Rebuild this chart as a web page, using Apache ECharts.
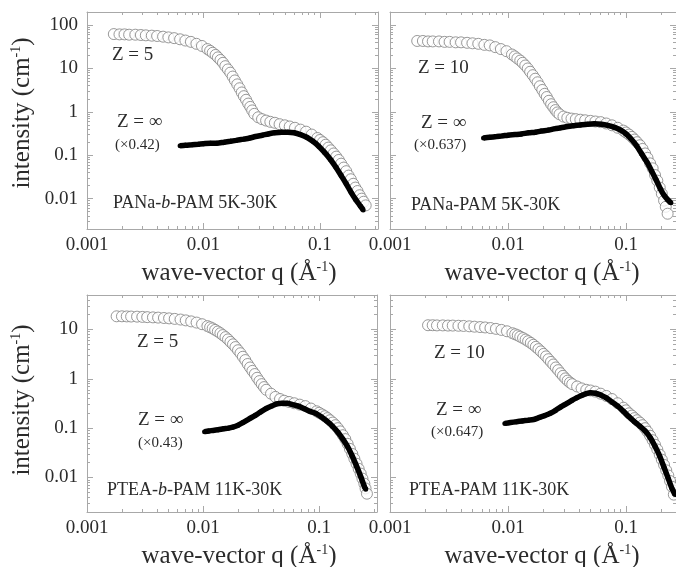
<!DOCTYPE html>
<html>
<head>
<meta charset="utf-8">
<script src="https://cdn.jsdelivr.net/npm/echarts@6/dist/echarts.min.js"></script>
<style>
  html, body { margin: 0; background: #fff; }
  #chart { width: 676px; height: 567px; }
</style>
</head>
<body>
<div id="chart"></div>
<script>
// [q (1/Å), intensity (1/cm)]
const PANA_B_Z5 = [[0.0017,62],[0.0019,61],[0.0021,61],[0.0023,60],[0.0026,60],[0.0029,59],[0.0032,58],[0.0036,57],[0.004,56],[0.0045,54],[0.005,52],[0.0056,50],[0.0063,47],[0.007,44],[0.0078,41],[0.0087,37],[0.0097,33],[0.0108,28],[0.0114,25.5],[0.012,23],[0.0127,20.5],[0.0133,18],[0.014,15.7],[0.0147,13.5],[0.0154,11.3],[0.0162,9.5],[0.017,8],[0.0178,6.5],[0.0186,5.3],[0.0195,4.3],[0.0204,3.5],[0.0213,2.8],[0.0222,2.3],[0.0232,1.9],[0.0242,1.55],[0.0252,1.3],[0.0262,1.08],[0.0273,0.9],[0.0295,0.75],[0.0318,0.68],[0.0345,0.63],[0.0375,0.59],[0.041,0.56],[0.045,0.52],[0.05,0.49],[0.055,0.46],[0.061,0.43],[0.068,0.39],[0.076,0.35],[0.085,0.3],[0.095,0.25],[0.1,0.225],[0.106,0.2],[0.112,0.175],[0.118,0.15],[0.124,0.13],[0.131,0.11],[0.138,0.093],[0.145,0.078],[0.152,0.064],[0.16,0.052],[0.168,0.043],[0.176,0.034],[0.184,0.028],[0.193,0.022],[0.201,0.018],[0.21,0.015],[0.219,0.012],[0.228,0.01],[0.237,0.0085],[0.247,0.007]];
const PANA_B_INF = [[0.0063,0.165],[0.007,0.17],[0.008,0.175],[0.009,0.18],[0.01,0.185],[0.0115,0.19],[0.013,0.19],[0.015,0.2],[0.017,0.21],[0.019,0.22],[0.022,0.235],[0.025,0.25],[0.028,0.27],[0.032,0.29],[0.036,0.31],[0.041,0.33],[0.047,0.34],[0.053,0.34],[0.06,0.33],[0.068,0.3],[0.077,0.26],[0.087,0.21],[0.098,0.16],[0.11,0.115],[0.123,0.08],[0.137,0.053],[0.152,0.034],[0.168,0.022],[0.185,0.014],[0.203,0.0095],[0.222,0.0068],[0.235,0.0055]];

const PANA_Z10 = [[0.0017,43],[0.0019,43],[0.0021,42],[0.0023,42],[0.0026,42],[0.0029,41],[0.0032,41],[0.0036,40],[0.004,40],[0.0045,39],[0.005,38],[0.0056,37],[0.0063,35],[0.007,34],[0.0078,31],[0.0087,28],[0.0097,25],[0.0108,21],[0.0114,19],[0.012,17],[0.0127,15.2],[0.0133,13.5],[0.014,11.7],[0.0147,10],[0.0154,8.4],[0.0162,7],[0.017,5.8],[0.0178,4.8],[0.0186,3.9],[0.0195,3.2],[0.0204,2.6],[0.0213,2.2],[0.0222,1.8],[0.0232,1.5],[0.0242,1.28],[0.0252,1.1],[0.0262,0.97],[0.0273,0.88],[0.0295,0.78],[0.0318,0.73],[0.0345,0.7],[0.0375,0.68],[0.041,0.66],[0.045,0.64],[0.05,0.62],[0.055,0.6],[0.061,0.58],[0.068,0.54],[0.076,0.49],[0.085,0.43],[0.095,0.37],[0.1,0.335],[0.106,0.3],[0.112,0.265],[0.118,0.23],[0.124,0.2],[0.131,0.17],[0.138,0.14],[0.145,0.11],[0.152,0.087],[0.16,0.065],[0.168,0.05],[0.176,0.035],[0.184,0.026],[0.193,0.018],[0.201,0.013],[0.21,0.009],[0.217,0.0065],[0.225,0.0045]];
const PANA_INF = [[0.0062,0.25],[0.007,0.26],[0.008,0.27],[0.009,0.28],[0.01,0.29],[0.0115,0.3],[0.013,0.31],[0.015,0.33],[0.017,0.34],[0.019,0.36],[0.022,0.38],[0.025,0.41],[0.028,0.43],[0.032,0.46],[0.036,0.48],[0.041,0.5],[0.047,0.52],[0.054,0.53],[0.062,0.52],[0.07,0.49],[0.08,0.44],[0.09,0.38],[0.1,0.31],[0.11,0.24],[0.122,0.17],[0.135,0.11],[0.15,0.07],[0.165,0.043],[0.18,0.027],[0.195,0.017],[0.21,0.012],[0.225,0.0095],[0.24,0.008]];

const PTEA_B_Z5 = [[0.0018,18.5],[0.002,18.5],[0.0022,18.4],[0.0024,18.3],[0.0027,18.2],[0.003,18],[0.0033,17.8],[0.0037,17.6],[0.0041,17.4],[0.0046,17.1],[0.0051,16.8],[0.0057,16.4],[0.0064,15.9],[0.0071,15.3],[0.0079,14.6],[0.0088,13.8],[0.0098,12.8],[0.0109,11.7],[0.0115,11.1],[0.0121,10.5],[0.0127,9.8],[0.0134,9.1],[0.0141,8.4],[0.0148,7.7],[0.0156,7],[0.0164,6.3],[0.0172,5.6],[0.0181,5],[0.019,4.4],[0.02,3.8],[0.021,3.3],[0.022,2.8],[0.0231,2.4],[0.0242,2],[0.0254,1.7],[0.0266,1.45],[0.0279,1.25],[0.0292,1.05],[0.0306,0.9],[0.032,0.78],[0.0335,0.68],[0.035,0.6],[0.0385,0.5],[0.042,0.43],[0.046,0.39],[0.05,0.36],[0.055,0.34],[0.061,0.32],[0.068,0.3],[0.076,0.28],[0.085,0.25],[0.095,0.22],[0.1,0.205],[0.106,0.19],[0.112,0.175],[0.118,0.16],[0.124,0.145],[0.131,0.13],[0.138,0.115],[0.145,0.1],[0.152,0.086],[0.16,0.072],[0.168,0.06],[0.176,0.048],[0.184,0.038],[0.193,0.03],[0.201,0.024],[0.21,0.019],[0.219,0.015],[0.228,0.012],[0.236,0.0095],[0.245,0.0075],[0.251,0.006],[0.258,0.0047]];
const PTEA_B_INF = [[0.0103,0.085],[0.0112,0.088],[0.0122,0.09],[0.0135,0.093],[0.015,0.097],[0.0165,0.1],[0.018,0.105],[0.02,0.115],[0.022,0.13],[0.025,0.155],[0.028,0.18],[0.031,0.21],[0.035,0.25],[0.039,0.28],[0.043,0.31],[0.048,0.32],[0.053,0.32],[0.059,0.3],[0.066,0.28],[0.074,0.25],[0.083,0.22],[0.093,0.2],[0.104,0.17],[0.116,0.14],[0.13,0.11],[0.145,0.083],[0.16,0.06],[0.176,0.042],[0.193,0.027],[0.21,0.017],[0.228,0.0105],[0.245,0.0066],[0.252,0.0058]];

const PTEA_Z10 = [[0.0021,12.2],[0.0023,12.2],[0.0025,12.1],[0.0028,12.1],[0.0031,12],[0.0034,12],[0.0038,11.9],[0.0042,11.8],[0.0047,11.6],[0.0052,11.4],[0.0058,11.2],[0.0064,11],[0.0071,10.7],[0.0079,10.3],[0.0088,9.8],[0.0098,9.2],[0.0109,8.4],[0.0115,8],[0.0121,7.6],[0.0127,7.15],[0.0134,6.7],[0.0141,6.25],[0.0148,5.8],[0.0156,5.35],[0.0164,4.9],[0.0172,4.45],[0.0181,4],[0.019,3.6],[0.02,3.2],[0.021,2.85],[0.022,2.5],[0.0231,2.2],[0.0242,1.95],[0.0254,1.7],[0.0266,1.5],[0.0279,1.3],[0.0292,1.15],[0.0306,1.02],[0.032,0.92],[0.0335,0.84],[0.035,0.78],[0.0385,0.7],[0.042,0.64],[0.046,0.6],[0.05,0.58],[0.055,0.55],[0.061,0.5],[0.068,0.45],[0.076,0.39],[0.085,0.32],[0.095,0.26],[0.1,0.23],[0.106,0.2],[0.112,0.18],[0.118,0.16],[0.124,0.145],[0.131,0.13],[0.138,0.115],[0.145,0.1],[0.152,0.085],[0.16,0.07],[0.168,0.057],[0.176,0.046],[0.184,0.037],[0.193,0.029],[0.201,0.023],[0.21,0.018],[0.219,0.014],[0.228,0.011],[0.236,0.0085],[0.245,0.0065],[0.254,0.0045]];
const PTEA_INF = [[0.0094,0.125],[0.0105,0.13],[0.0118,0.135],[0.0132,0.14],[0.0148,0.145],[0.0165,0.15],[0.0185,0.165],[0.0205,0.18],[0.0228,0.2],[0.0253,0.23],[0.028,0.27],[0.031,0.31],[0.0345,0.36],[0.038,0.41],[0.042,0.46],[0.046,0.5],[0.05,0.52],[0.055,0.51],[0.061,0.47],[0.068,0.41],[0.076,0.34],[0.085,0.28],[0.095,0.22],[0.106,0.17],[0.118,0.135],[0.131,0.11],[0.145,0.088],[0.16,0.065],[0.176,0.043],[0.193,0.027],[0.21,0.016],[0.228,0.0095],[0.245,0.006],[0.26,0.0045]];

const X_TICKS = [0.001, 0.01, 0.1];
const X_TICK_LABELS = ['0.001', '0.01', '0.1'];
const Y_TICKS = [0.01, 0.1, 1, 10, 100];
const Y_TICK_LABELS = ['0.01', '0.1', '1', '10', '100'];

const SAMPLES = ['PANa-{i|b}-PAM 5K-30K', 'PANa-PAM 5K-30K', 'PTEA-{i|b}-PAM 11K-30K', 'PTEA-PAM 11K-30K'];
const Z_LABELS = ['Z = 5', 'Z = 10', 'Z = 5', 'Z = 10'];
const FACTORS = ['(×0.42)', '(×0.637)', '(×0.43)', '(×0.647)'];

const FONT = 'Liberation Serif';
const TEXT = '#2b2b2b';
const AXIS = '#a8a8a8';
const GRAY = '#808080';

// minor ticks 2..9 of every decade
const MINORS = [];
[0.001, 0.01, 0.1, 1, 10, 100].forEach(d => {
  for (let m = 2; m <= 9; m++) MINORS.push(Number((m * d).toPrecision(6)));
});

const panels = [
  { grid: { left: 87, top: 12, width: 291, height: 217 }, xMax: 0.315, yMax: 200, yLabels: true, gray: PANA_B_Z5, black: PANA_B_INF,
    z: [112, 55], inf: [117, 122], fac: [115, 145], sample: [113, 203] },
  { grid: { left: 390, top: 12, width: 286, height: 217 }, xMax: 0.265, yMax: 200, yLabels: false, gray: PANA_Z10, black: PANA_INF,
    z: [418, 68], inf: [421, 123], fac: [414, 145], sample: [411, 205] },
  { grid: { left: 87, top: 295, width: 290, height: 217 }, xMax: 0.315, yMax: 50, yLabels: true, gray: PTEA_B_Z5, black: PTEA_B_INF,
    z: [137, 342], inf: [138, 420], fac: [138, 443], sample: [107, 490] },
  { grid: { left: 390, top: 295, width: 286, height: 217 }, xMax: 0.265, yMax: 50, yLabels: false, gray: PTEA_Z10, black: PTEA_INF,
    z: [434, 353], inf: [436, 410], fac: [431, 432], sample: [409, 490] }
];

function tickFormatter(ticks, labels) {
  return v => {
    const k = ticks.findIndex(t => Math.abs(Math.log10(t / v)) < 1e-6);
    return k < 0 ? '' : labels[k];
  };
}

// four axes per side pair: main + minor ticks, mirrored on the opposite side
function buildAxes(dim, gi, min, max, ticks, labels, showLabels) {
  const minors = MINORS.filter(v => v > min && v < max);
  const base = { type: 'log', logBase: 10, gridIndex: gi, min, max, splitLine: { show: false } };
  const pos = dim === 'x' ? ['bottom', 'top'] : ['left', 'right'];
  const line = { show: true, onZero: false, lineStyle: { color: AXIS, width: 1 } };
  const major = { show: true, inside: true, length: 6, customValues: ticks, lineStyle: { color: AXIS } };
  const minor = { show: true, inside: true, length: 3, customValues: minors, lineStyle: { color: AXIS } };
  return [
    Object.assign({}, base, { position: pos[0], axisLine: line, axisTick: major,
      axisLabel: { show: showLabels, customValues: ticks, formatter: tickFormatter(ticks, labels),
        margin: dim === 'x' ? 7 : 9, fontFamily: FONT, fontSize: 19, color: TEXT } }),
    Object.assign({}, base, { position: pos[0], axisLine: { show: false }, axisTick: minor, axisLabel: { show: false } }),
    Object.assign({}, base, { position: pos[1], axisLine: line, axisTick: major, axisLabel: { show: false } }),
    Object.assign({}, base, { position: pos[1], axisLine: { show: false }, axisTick: minor, axisLabel: { show: false } })
  ];
}

const grids = [], xAxes = [], yAxes = [], series = [], graphics = [];
const rich = {
  i: { fontFamily: FONT, fontSize: 18, fontStyle: 'italic', fill: TEXT },
  sup: { fontFamily: FONT, fontSize: 14, verticalAlign: 'top', fill: TEXT }
};

panels.forEach((p, gi) => {
  grids.push(p.grid);
  const xi = xAxes.length, yi = yAxes.length;
  xAxes.push(...buildAxes('x', gi, 0.001, p.xMax, X_TICKS, X_TICK_LABELS, true));
  yAxes.push(...buildAxes('y', gi, 0.002, p.yMax, Y_TICKS, Y_TICK_LABELS, p.yLabels));

  series.push({
    type: 'scatter', xAxisIndex: xi, yAxisIndex: yi, data: p.gray,
    symbol: 'circle', symbolSize: 11,
    itemStyle: { color: '#fff', borderColor: GRAY, borderWidth: 1 }
  });
  series.push({
    type: 'line', xAxisIndex: xi, yAxisIndex: yi, data: p.black,
    symbol: 'circle', symbolSize: 5, smooth: 0.3,
    lineStyle: { color: '#000', width: 5.5 }, itemStyle: { color: '#000' }
  });

  const txt = (xy, text, size) => ({
    type: 'text', x: xy[0], y: xy[1], z: 100,
    style: { text, fontFamily: FONT, fontSize: size, fill: TEXT, verticalAlign: 'middle', rich }
  });
  graphics.push(txt(p.z, Z_LABELS[gi], 19));
  graphics.push(txt(p.inf, 'Z = ∞', 19));
  graphics.push(txt(p.fac, FACTORS[gi], 15));
  graphics.push(txt(p.sample, SAMPLES[gi], 18));

  // axis titles
  const g = p.grid;
  graphics.push({
    type: 'text', x: g.left + 152, y: g.top + g.height + 44, z: 100,
    style: { text: 'wave-vector q (Å{sup|-1})', fontFamily: FONT, fontSize: 25, fill: TEXT,
      align: 'center', verticalAlign: 'middle', rich }
  });
  if (p.yLabels) {
    graphics.push({
      type: 'text', x: 22, y: g.top + (gi < 2 ? 101 : 105), rotation: Math.PI / 2, z: 100,
      style: { text: 'intensity (cm{sup|-1})', fontFamily: FONT, fontSize: 25, fill: TEXT,
        align: 'center', verticalAlign: 'middle', rich }
    });
  }
});

const chart = echarts.init(document.getElementById('chart'));
chart.setOption({
  animation: false,
  backgroundColor: '#fff',
  textStyle: { fontFamily: FONT },
  grid: grids,
  xAxis: xAxes,
  yAxis: yAxes,
  series,
  graphic: graphics
});
</script>
</body>
</html>
